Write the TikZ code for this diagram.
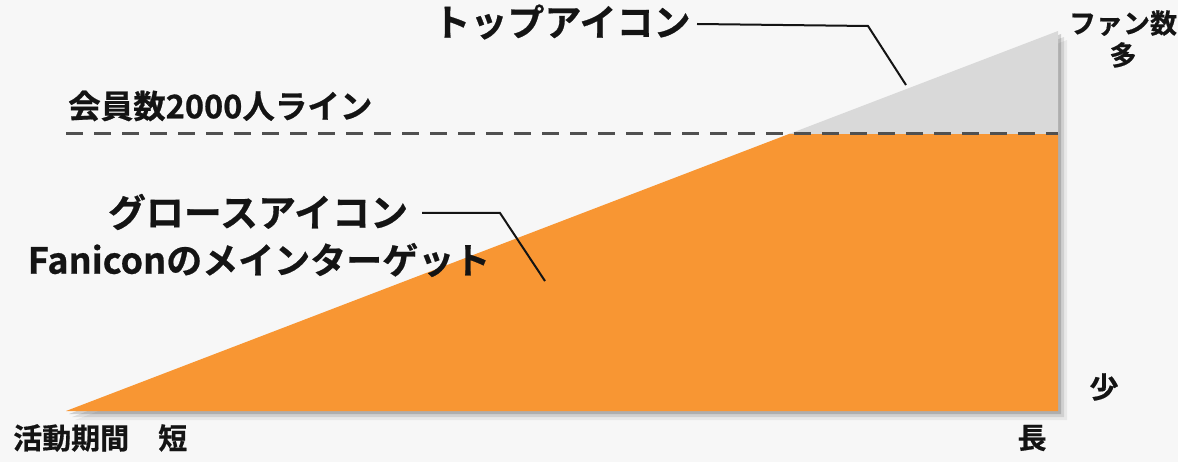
\documentclass[tikz,border=0pt]{standalone}
\usepackage{fontspec}
\setmainfont{Noto Sans CJK JP}[BoldFont={* Bold}, BoldFeatures={FakeBold=0.6}]
\definecolor{bg}{HTML}{F7F7F7}
\definecolor{orng}{HTML}{F89633}
\definecolor{lgray}{HTML}{D9D9D9}
\definecolor{dgray}{HTML}{505050}
\tikzset{
  lbl/.style={inner sep=0pt, font=\bfseries\fontsize{#1}{#1}\selectfont, text=black!92},
  lead/.style={line width=2pt, black!92},
}
\begin{document}
\begin{tikzpicture}[x=1pt,y=-1pt]
\fill[bg] (0,0) rectangle (1178,462);
\useasboundingbox (0,0) rectangle (1178,462);
% corners
\coordinate (A) at (66,411);
\coordinate (B) at (1058,411);
\coordinate (C) at (1058,31);
\coordinate (D) at (789,134);
\coordinate (E) at (1058,134);
% shadow
\fill[black, opacity=0.06] ([shift={(9,9)}]A) -- ([shift={(9,9)}]B) -- ([shift={(9,9)}]C) -- cycle;
\fill[black, opacity=0.10] ([shift={(6,6)}]A) -- ([shift={(6,6)}]B) -- ([shift={(6,6)}]C) -- cycle;
\fill[black, opacity=0.16] ([shift={(3,3)}]A) -- ([shift={(3,3)}]B) -- ([shift={(3,3)}]C) -- cycle;
% regions
\fill[orng] (A) -- (B) -- (E) -- (D) -- cycle;
\fill[lgray] (D) -- (E) -- (C) -- cycle;
% dashed line
\coordinate (L0) at (66,134);
\draw[dgray, line width=3pt, dash pattern=on 17pt off 11pt] (L0) -- (E);
% labels
\node[lbl=37] (top) at (562,22) {トップアイコン};
\node[lbl=27, align=center] (fan) at (1123,39) {ファン数\\[5pt]多};
\node[lbl=32.5, anchor=west] (line) at (68,106) {会員数2000人ライン};
\node[lbl=38] (grow1) at (258,212) {グロースアイコン};
\node[lbl=36] (grow2) at (259,260) {Faniconのメインターゲット};
\node[lbl=29, anchor=west] (dur) at (13,438) {活動期間　短};
\node[lbl=29] (long) at (1032,438) {長};
\node[lbl=29] (few) at (1104,387) {少};
% leaders
\coordinate (t1) at (697,24);
\coordinate (t2) at (868,26);
\coordinate (t3) at (906,85);
\draw[lead] (t1) -- (t2) -- (t3);
\coordinate (g1) at (422,213);
\coordinate (g2) at (500,213);
\coordinate (g3) at (545,281);
\draw[lead] (g1) -- (g2) -- (g3);
\end{tikzpicture}
\end{document}
